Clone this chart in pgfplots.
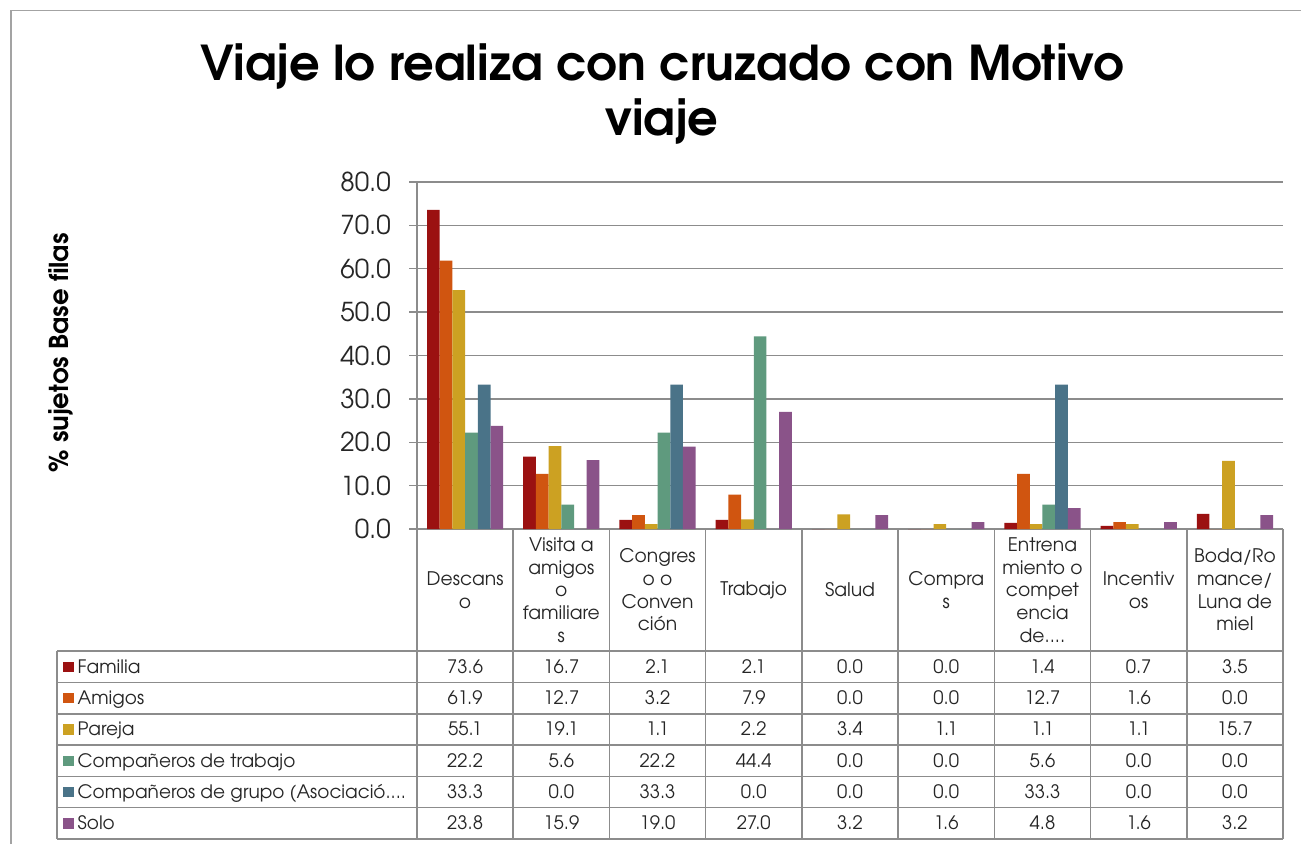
\documentclass[border=0pt]{standalone}
\usepackage{pgfplots}
\pgfplotsset{compat=1.18}
\usepackage{pgfplotstable}
\usepackage{fontspec}
\setmainfont{texgyreadventor}[Extension=.otf, UprightFont=*-regular, BoldFont=*-bold, ItalicFont=*-italic, BoldItalicFont=*-bolditalic]
\definecolor{cFam}{RGB}{155,17,17}
\definecolor{cAmi}{RGB}{208,85,16}
\definecolor{cPar}{RGB}{204,161,34}
\definecolor{cTra}{RGB}{95,154,126}
\definecolor{cGru}{RGB}{74,115,136}
\definecolor{cSol}{RGB}{138,83,137}
\definecolor{gridc}{RGB}{140,140,140}
\definecolor{txt}{RGB}{38,38,38}
\pgfplotstableread{
cat Familia Amigos Pareja Trabajo Grupo Solo
Descanso 73.6 61.9 55.1 22.2 33.3 23.8
Visita 16.7 12.7 19.1 5.6 0.0 15.9
Congreso 2.1 3.2 1.1 22.2 33.3 19.0
Trabajo 2.1 7.9 2.2 44.4 0.0 27.0
Salud 0.0 0.0 3.4 0.0 0.0 3.2
Compras 0.0 0.0 1.1 0.0 0.0 1.6
Entrenamiento 1.4 12.7 1.1 5.6 33.3 4.8
Incentivos 0.7 1.6 1.1 0.0 0.0 1.6
Boda 3.5 0.0 15.7 0.0 0.0 3.2
}\data
\begin{document}
\begin{tikzpicture}
\useasboundingbox (0,0) rectangle (1301pt,-844pt);
\fill[white] (0,0) rectangle (1301pt,-844pt);
\draw[gridc!80, line width=1.3pt] (11pt,-844pt) -- (11pt,-10.5pt) -- (1301pt,-10.5pt);
\node[font=\fontsize{48}{55}\selectfont\bfseries, anchor=base, inner sep=0pt] at (662pt,-80pt) {Viaje lo realiza con cruzado con Motivo};
\node[font=\fontsize{48}{55}\selectfont\bfseries, anchor=base, inner sep=0pt] at (662pt,-135pt) {viaje};
\node[font=\fontsize{26}{26}\selectfont\bfseries, rotate=90, inner sep=0pt] at (61pt,-353pt) {\% sujetos Base filas};
\begin{axis}[
  at={(417pt,-529pt)}, anchor=south west,
  scale only axis, width=866pt, height=347pt,
  xmin=0, xmax=9, ymin=0, ymax=80,
  axis x line=none, axis y line=left,
  y axis line style={-, line width=1.3pt, color=gridc},
  ytick={0,10,...,80}, xtick=\empty,
  ymajorgrids, grid style={line width=1.3pt, color=gridc},
  major tick length=8pt, tick align=outside,
  tick style={line width=1.3pt, color=gridc},
  yticklabel style={font=\fontsize{26}{26}\selectfont, text=txt, inner sep=0pt, anchor=east, xshift=-18pt,
    /pgf/number format/.cd, fixed, fixed zerofill, precision=1, assume math mode=true},
]
\addplot[ybar, fill=cFam, draw=none, bar width=0.132, bar shift=-0.33] table[x expr=\coordindex+0.5, y=Familia] {\data};
\addplot[ybar, fill=cAmi, draw=none, bar width=0.132, bar shift=-0.198] table[x expr=\coordindex+0.5, y=Amigos] {\data};
\addplot[ybar, fill=cPar, draw=none, bar width=0.132, bar shift=-0.066] table[x expr=\coordindex+0.5, y=Pareja] {\data};
\addplot[ybar, fill=cTra, draw=none, bar width=0.132, bar shift=0.066] table[x expr=\coordindex+0.5, y=Trabajo] {\data};
\addplot[ybar, fill=cGru, draw=none, bar width=0.132, bar shift=0.198] table[x expr=\coordindex+0.5, y=Grupo] {\data};
\addplot[ybar, fill=cSol, draw=none, bar width=0.132, bar shift=0.33] table[x expr=\coordindex+0.5, y=Solo] {\data};
\end{axis}
% table grid
\tikzset{tbl/.style={gridc, line width=1.5pt}}
\foreach \i in {0,...,9} \draw[tbl] ({417pt+\i*96.2222pt},-529pt) -- ({417pt+\i*96.2222pt},-839pt);
\draw[tbl] (57pt,-651pt) -- (57pt,-839pt);
\foreach \y in {651,682.5,714,745,776.5,807.5,839} \draw[tbl] (57pt,{-\y*1pt}) -- (1283pt,{-\y*1pt});
% header
\tikzset{hdr/.style={font=\fontsize{18.7}{22.7}\selectfont, text=txt, align=center, inner sep=0pt}}
\node[hdr] at ({417pt+0.5*96.2222pt},-590pt) {Descans\\o};
\node[hdr] at ({417pt+1.5*96.2222pt},-590pt) {Visita a\\amigos\\o\\familiare\\s};
\node[hdr] at ({417pt+2.5*96.2222pt},-590pt) {Congres\\o o\\Conven\\ción};
\node[hdr] at ({417pt+3.5*96.2222pt},-590pt) {Trabajo};
\node[hdr] at ({417pt+4.5*96.2222pt},-590pt) {Salud};
\node[hdr] at ({417pt+5.5*96.2222pt},-590pt) {Compra\\s};
\node[hdr] at ({417pt+6.5*96.2222pt},-590pt) {Entrena\\miento o\\compet\\encia\\de....};
\node[hdr] at ({417pt+7.5*96.2222pt},-590pt) {Incentiv\\os};
\node[hdr] at ({417pt+8.5*96.2222pt},-590pt) {Boda/Ro\\mance/\\Luna de\\miel};
% values
\tikzset{num/.style={font=\fontsize{18.5}{20}\selectfont, text=txt, inner sep=0pt, anchor=base}}
\foreach \c [count=\ri from 0] in {Familia,Amigos,Pareja,Trabajo,Grupo,Solo} {
  \foreach \r in {0,...,8} {
    \pgfplotstablegetelem{\r}{\c}\of\data
    \node[num] at ({417pt+(\r+0.5)*96.2222pt},{-673.3pt-\ri*31.33pt}) {\pgfplotsretval};
  }
}
% legend column
\tikzset{leg/.style={font=\fontsize{18.5}{20}\selectfont, text=txt, inner sep=0pt, anchor=base west}}
\fill[cFam] (63pt,-661.5pt) rectangle (73.5pt,-672pt);
\node[leg] at (77.5pt,-673.3pt) {Familia};
\fill[cAmi] (63pt,-692.8pt) rectangle (73.5pt,-703.3pt);
\node[leg] at (77.5pt,-704.63pt) {Amigos};
\fill[cPar] (63pt,-724.1pt) rectangle (73.5pt,-734.6pt);
\node[leg] at (77.5pt,-735.96pt) {Pareja};
\fill[cTra] (63pt,-755.5pt) rectangle (73.5pt,-766pt);
\node[leg] at (77.5pt,-767.29pt) {Compañeros de trabajo};
\fill[cGru] (63pt,-786.8pt) rectangle (73.5pt,-797.3pt);
\node[leg] at (77.5pt,-798.62pt) {Compañeros de grupo (Asociació....};
\fill[cSol] (63pt,-818.1pt) rectangle (73.5pt,-828.6pt);
\node[leg] at (77.5pt,-829.95pt) {Solo};
\end{tikzpicture}
\end{document}
